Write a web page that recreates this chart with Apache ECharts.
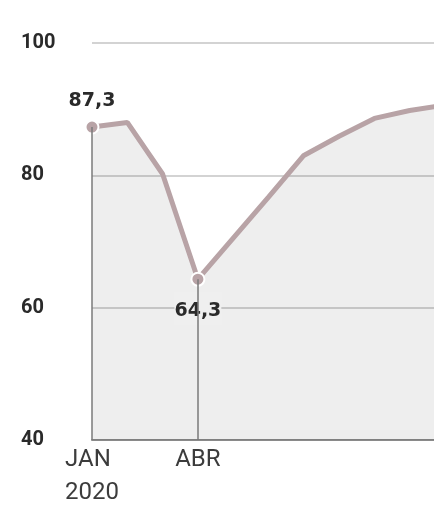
<!DOCTYPE html>
<html>
<head>
<meta charset="utf-8">
<script src="https://cdn.jsdelivr.net/npm/echarts@6/dist/echarts.min.js"></script>
<style>
  html, body { margin: 0; padding: 0; background: #fff; }
  #chart { width: 434px; height: 510px; }
</style>
</head>
<body>
<div id="chart"></div>
<script>
  // meses de 2020 (o gráfico original continua à direita, cortado)
  var months = ['JAN', 'FEV', 'MAR', 'ABR', 'MAI', 'JUN', 'JUL', 'AGO', 'SET', 'OUT', 'NOV'];
  var values = [87.3, 88.0, 80.2, 64.3, 70.5, 76.7, 83.0, 85.9, 88.6, 89.8, 90.6];
  var yTicks = [40, 60, 80, 100];
  var shownMonths = ['JAN', 'ABR'];
  var yearLabel = '2020';
  var highlights = [0, 3]; // pontos com valor escrito

  var lineColor = '#b8a3a6';
  var chart = echarts.init(document.getElementById('chart'));

  var seriesData = values.map(function (v, i) {
    var isHi = highlights.indexOf(i) >= 0;
    var below = i === 3;
    return {
      value: v,
      symbolSize: isHi ? 13 : 0,
      label: {
        show: isHi,
        position: below ? 'bottom' : 'top',
        distance: below ? 6 : 9,
        formatter: function (p) { return String(p.value).replace('.', ','); },
        fontFamily: 'DejaVu Sans',
        fontWeight: 'bold',
        fontSize: 19,
        color: '#2a2a2a',
        backgroundColor: below ? '#efefef' : 'transparent',
        padding: below ? [9, 0, 4, 0] : 0
      }
    };
  });

  chart.setOption({
    animation: false,
    grid: { left: 92, right: -11, top: 43, bottom: 70, outerBoundsMode: 'none' },
    xAxis: {
      type: 'category',
      data: months,
      boundaryGap: false,
      axisTick: { show: false },
      axisLine: { lineStyle: { color: '#8a8a8a', width: 2 } },
      axisLabel: {
        interval: 0,
        margin: 3,
        formatter: function (m, i) {
          if (shownMonths.indexOf(m) < 0) return '';
          return i === 0 ? '{a|' + m + '}\n{a|' + yearLabel + '}' : '{a|' + m + '}';
        },
        rich: {
          a: {
            fontFamily: 'Roboto',
            fontSize: 24,
            lineHeight: 33,
            color: '#3c3c3c',
            align: 'left'
          }
        }
      }
    },
    yAxis: {
      type: 'value',
      min: yTicks[0],
      max: yTicks[yTicks.length - 1],
      interval: 20,
      axisLine: { show: false },
      axisTick: { show: false },
      axisLabel: {
        align: 'left',
        margin: 71,
        fontFamily: 'Roboto',
        fontWeight: 'bold',
        fontSize: 20,
        color: '#2a2a2a'
      },
      splitLine: { lineStyle: { color: '#c4c4c4', width: 1.5 } }
    },
    series: [{
      type: 'line',
      data: seriesData,
      symbol: 'circle',
      lineStyle: { color: lineColor, width: 5 },
      itemStyle: { color: lineColor, borderColor: '#fff', borderWidth: 2 },
      areaStyle: { color: 'rgba(0,0,0,0.065)', opacity: 1, origin: 'start' },
      markLine: {
        silent: true,
        symbol: ['none', 'none'],
        label: { show: false },
        lineStyle: { color: '#7a7a7a', width: 1.5, type: 'solid' },
        data: highlights.map(function (i) {
          return [{ coord: [months[i], yTicks[0]] }, { coord: [months[i], values[i]] }];
        })
      }
    }]
  });
</script>
</body>
</html>
